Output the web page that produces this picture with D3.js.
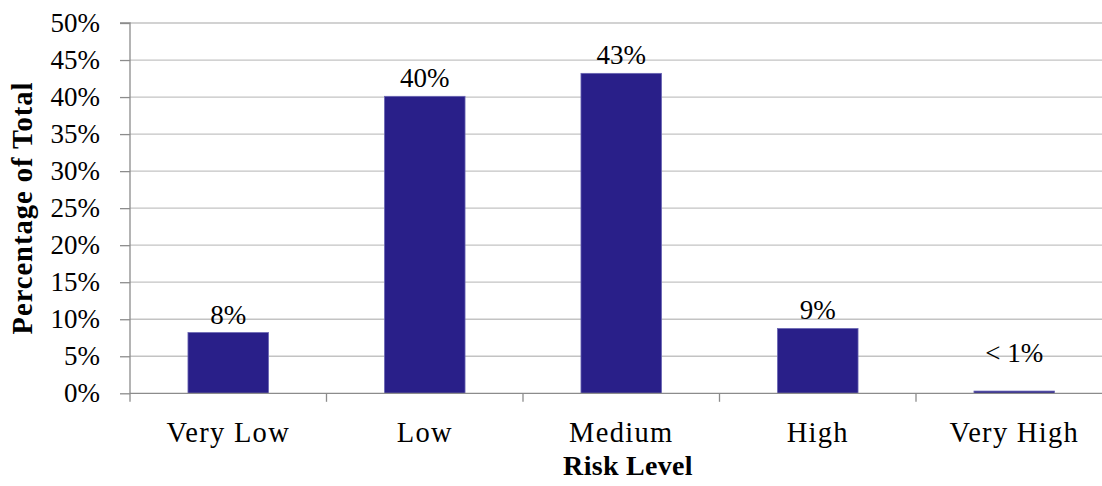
<!DOCTYPE html>
<html>
<head>
<meta charset="utf-8">
<script src="https://cdn.jsdelivr.net/npm/d3@7"></script>
<style>
  html, body { margin: 0; padding: 0; background: #fff; }
  svg { display: block; }
  svg text { font-family: "Liberation Serif", "DejaVu Serif", serif; fill: #000; }
</style>
</head>
<body>
<script>
// Share of assessed items in each risk level (percent of total)
const categories = ["Very Low", "Low", "Medium", "High", "Very High"];
const values = [8.2, 40.1, 43.2, 8.75, 0.3];
const valueLabels = ["8%", "40%", "43%", "9%", "< 1%"];
const yTicks = [0, 5, 10, 15, 20, 25, 30, 35, 40, 45, 50];

const W = 1102, H = 486;
const plot = { left: 130, right: 1112.5, top: 23, bottom: 393.3 };
const serif = '"Liberation Serif", "DejaVu Serif", serif';

const svg = d3.select("body").append("svg")
  .attr("width", W).attr("height", H);

const x = d3.scaleBand()
  .domain(categories)
  .range([plot.left, plot.right])
  .paddingInner(0.59).paddingOuter(0.295);

const y = d3.scaleLinear().domain([0, 50]).range([plot.bottom, plot.top]);

// horizontal gridlines
svg.append("g")
  .selectAll("line")
  .data(yTicks.filter(d => d > 0))
  .join("line")
  .attr("x1", plot.left).attr("x2", W)
  .attr("y1", d => y(d)).attr("y2", d => y(d))
  .attr("stroke", "#c3c3c3").attr("stroke-width", 1.3);

// bars
svg.append("g")
  .selectAll("rect")
  .data(values)
  .join("rect")
  .attr("x", (d, i) => x(categories[i]))
  .attr("width", x.bandwidth())
  .attr("y", d => y(d))
  .attr("height", d => y(0) - y(d))
  .attr("fill", "#291f89")
  .attr("stroke", "#6a66b3").attr("stroke-width", 0.8);

// y axis
const yAxis = d3.axisLeft(y)
  .tickValues(yTicks)
  .tickFormat(d => d + "%")
  .tickSize(10).tickPadding(20);
const gy = svg.append("g").attr("transform", `translate(${plot.left},0)`).call(yAxis)
  .attr("font-family", null).attr("font-size", null);
gy.select(".domain").attr("stroke", "#8c8c8c").attr("stroke-width", 1.3).attr("d", `M-10,${plot.top}H0V${plot.bottom}`);
gy.selectAll(".tick line").attr("stroke", "#8c8c8c").attr("stroke-width", 1.3);
gy.selectAll(".tick text")
  .style("font-family", serif)
  .style("font-size", "27px").attr("fill", "#000");

// x axis with tick marks at category boundaries
const step = x.step();
const boundaries = d3.range(categories.length + 1).map(i => plot.left + i * step);
svg.append("line")
  .attr("x1", plot.left).attr("x2", W)
  .attr("y1", plot.bottom).attr("y2", plot.bottom)
  .attr("stroke", "#8c8c8c").attr("stroke-width", 1.3);
svg.append("g")
  .selectAll("line")
  .data(boundaries)
  .join("line")
  .attr("x1", d => d).attr("x2", d => d)
  .attr("y1", plot.bottom).attr("y2", plot.bottom + 8.5)
  .attr("stroke", "#8c8c8c").attr("stroke-width", 1.3);

svg.append("g")
  .selectAll("text")
  .data(categories)
  .join("text")
  .attr("x", d => x(d) + x.bandwidth() / 2)
  .attr("y", 441.7)
  .attr("text-anchor", "middle")
  .style("font-size", "28.5px")
  .style("letter-spacing", "1.3px")
  .text(d => d);

// value labels above bars (small bars get a minimum lift so the label stays readable)
svg.append("g")
  .selectAll("text")
  .data(values)
  .join("text")
  .attr("x", (d, i) => x(categories[i]) + x.bandwidth() / 2)
  .attr("y", d => y(Math.max(d, 3)) - 9)
  .attr("text-anchor", "middle")
  .style("font-size", "27px")
  .text((d, i) => valueLabels[i]);

// axis titles
svg.append("text")
  .attr("transform", `translate(32,208) rotate(-90)`)
  .attr("text-anchor", "middle")
  .style("font-size", "28.5px").style("font-weight", "bold")
  .style("letter-spacing", "1px")
  .text("Percentage of Total");

svg.append("text")
  .attr("x", 628).attr("y", 475)
  .attr("text-anchor", "middle")
  .style("font-size", "28px").style("font-weight", "bold")
  .style("letter-spacing", "0.3px")
  .text("Risk Level");
</script>
</body>
</html>
